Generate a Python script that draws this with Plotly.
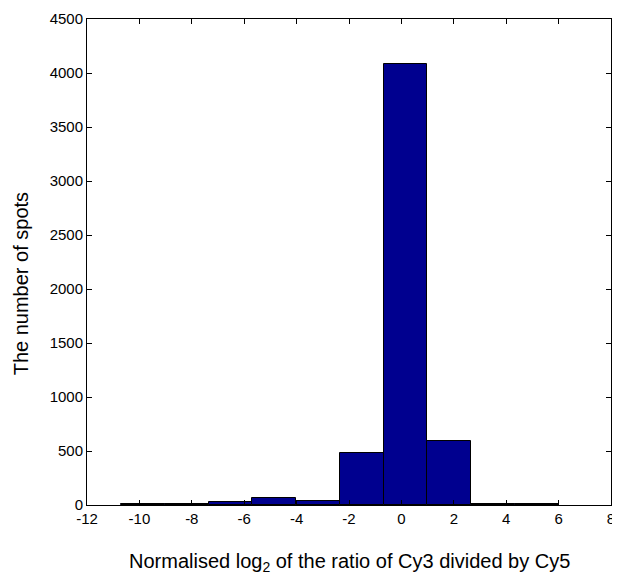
import plotly.graph_objects as go

bin_edges = [-10.70, -9.03, -7.36, -5.69, -4.02, -2.35, -0.68, 0.99, 2.66, 4.33, 6.00]
counts = [10, 10, 25, 68, 40, 482, 4080, 595, 8, 5]
x_ticks = [-12, -10, -8, -6, -4, -2, 0, 2, 4, 6, 8]
y_ticks = [0, 500, 1000, 1500, 2000, 2500, 3000, 3500, 4000, 4500]

centers = [(a + b) / 2 for a, b in zip(bin_edges[:-1], bin_edges[1:])]
widths = [b - a for a, b in zip(bin_edges[:-1], bin_edges[1:])]

FONT = "Liberation Sans, Arial, Helvetica, sans-serif"

fig = go.Figure(go.Bar(
    x=centers, y=counts, width=widths,
    marker=dict(color="#00008F", line=dict(color="black", width=1)),
))

axis_common = dict(
    showline=True, linecolor="black", linewidth=1, mirror="ticks",
    ticks="inside", ticklen=5, tickcolor="black", showgrid=False, zeroline=False,
    tickfont=dict(family=FONT, size=15, color="black"),
    automargin=False, ticklabeloverflow="allow",
)

# the page body adds an 8px margin, so the figure is sized to fit inside the window
fig.update_layout(
    width=604, height=566,
    margin=dict(l=79, r=1, t=11, b=69, pad=0),
    paper_bgcolor="white", plot_bgcolor="white",
    showlegend=False, bargap=0,
    xaxis=dict(range=[-12, 8], tickvals=x_ticks, ticktext=[str(v) for v in x_ticks], **axis_common),
    yaxis=dict(range=[0, 4500], tickvals=y_ticks, ticktext=[str(v) for v in y_ticks], **axis_common),
    annotations=[
        dict(text="Normalised log<sub>2</sub> of the ratio of Cy3 divided by Cy5",
             xref="paper", yref="paper", x=0.5, y=-0.119, xanchor="center", yanchor="middle",
             showarrow=False, font=dict(family=FONT, size=20, color="black")),
        dict(text="The number of spots", textangle=-90,
             xref="paper", yref="paper", x=-0.127, y=0.455, xanchor="center", yanchor="middle",
             showarrow=False, font=dict(family=FONT, size=20, color="black")),
    ],
)

fig.write_html("out.html")
